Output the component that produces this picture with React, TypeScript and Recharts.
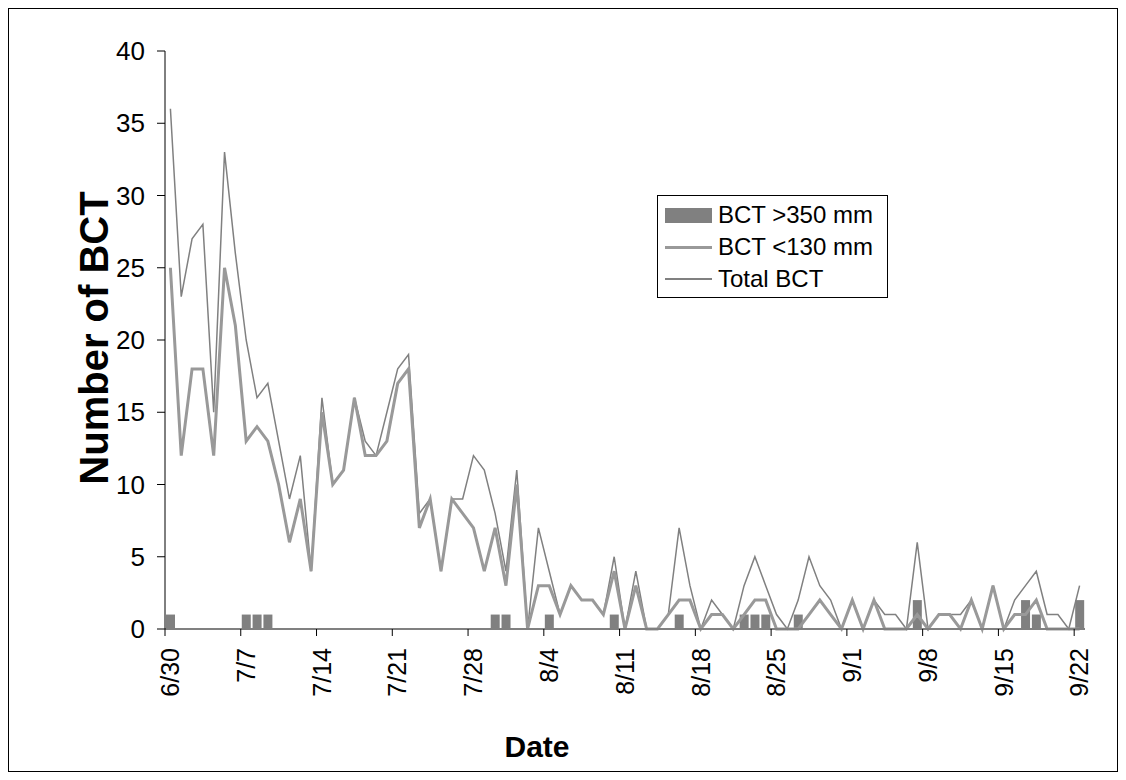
import { ComposedChart, Bar, Line, XAxis, YAxis, Legend, Label } from "recharts";

const dates = [
  "6/30",
  "7/1", "7/2", "7/3", "7/4", "7/5", "7/6", "7/7", "7/8", "7/9", "7/10",
  "7/11", "7/12", "7/13", "7/14", "7/15", "7/16", "7/17", "7/18", "7/19", "7/20",
  "7/21", "7/22", "7/23", "7/24", "7/25", "7/26", "7/27", "7/28", "7/29", "7/30", "7/31",
  "8/1", "8/2", "8/3", "8/4", "8/5", "8/6", "8/7", "8/8", "8/9", "8/10",
  "8/11", "8/12", "8/13", "8/14", "8/15", "8/16", "8/17", "8/18", "8/19", "8/20",
  "8/21", "8/22", "8/23", "8/24", "8/25", "8/26", "8/27", "8/28", "8/29", "8/30", "8/31",
  "9/1", "9/2", "9/3", "9/4", "9/5", "9/6", "9/7", "9/8", "9/9", "9/10",
  "9/11", "9/12", "9/13", "9/14", "9/15", "9/16", "9/17", "9/18", "9/19", "9/20",
  "9/21", "9/22",
];

const large = [
  1, 0, 0, 0, 0, 0, 0, 1, 1, 1, 0, 0, 0, 0, 0, 0, 0, 0, 0, 0,
  0, 0, 0, 0, 0, 0, 0, 0, 0, 0, 1, 1, 0, 0, 0, 1, 0, 0, 0, 0,
  0, 1, 0, 0, 0, 0, 0, 1, 0, 0, 0, 0, 0, 1, 1, 1, 0, 0, 1, 0,
  0, 0, 0, 0, 0, 0, 0, 0, 0, 2, 0, 0, 0, 0, 0, 0, 0, 0, 0, 2,
  1, 0, 0, 0, 2,
];

const small = [
  25, 12, 18, 18, 12, 25, 21, 13, 14, 13, 10, 6, 9, 4, 15, 10, 11, 16, 12, 12,
  13, 17, 18, 7, 9, 4, 9, 8, 7, 4, 7, 3, 10, 0, 3, 3, 1, 3, 2, 2,
  1, 4, 0, 3, 0, 0, 1, 2, 2, 0, 1, 1, 0, 1, 2, 2, 0, 0, 0, 1,
  2, 1, 0, 2, 0, 2, 0, 0, 0, 1, 0, 1, 1, 0, 2, 0, 3, 0, 1, 1,
  2, 0, 0, 0, 0,
];

const total = [
  36, 23, 27, 28, 15, 33, 26, 20, 16, 17, 13, 9, 12, 4, 16, 10, 11, 16, 13, 12,
  15, 18, 19, 8, 9, 4, 9, 9, 12, 11, 8, 4, 11, 0, 7, 4, 1, 3, 2, 2,
  1, 5, 0, 4, 0, 0, 1, 7, 3, 0, 2, 1, 0, 3, 5, 3, 1, 0, 2, 5,
  3, 2, 0, 2, 0, 2, 1, 1, 0, 6, 0, 1, 1, 1, 2, 0, 3, 0, 2, 3,
  4, 1, 1, 0, 3,
];

const yTicks = [0, 5, 10, 15, 20, 25, 30, 35, 40];

const data = dates.map((d, i) => ({ date: d, large: large[i], small: small[i], total: total[i] }));

const FONT = '"Liberation Sans", Arial, sans-serif';
const W = 1108;
const H = 762;
const LEFT = 156;
const RIGHT = 32;
const BAND = (W - LEFT - RIGHT) / dates.length;

const XTick = (props: any) => {
  const { x, y, payload } = props;
  const tx = x - BAND / 2;
  return (
    <g>
      <line x1={tx} x2={tx} y1={y} y2={y + 7} stroke="#000" strokeWidth={1} />
      <text
        x={x}
        y={y + 19}
        transform={`rotate(-90 ${x} ${y + 19})`}
        textAnchor="end"
        dy="0.35em"
        fontSize={25}
        fontFamily={FONT}
        fill="#000"
      >
        {payload.value}
      </text>
    </g>
  );
};

const LegendBox = () => {
  const row = { display: "flex", alignItems: "center", height: 32 } as const;
  const text = { fontSize: 24, fontFamily: FONT, color: "#000", marginLeft: 6, whiteSpace: "nowrap" } as const;
  return (
    <div style={{ border: "1px solid #000", background: "#fff", padding: "3px 7px 4px 7px", boxSizing: "border-box", width: 231, height: 103 }}>
      <div style={row}>
        <div style={{ width: 47, height: 15, background: "#808080" }} />
        <span style={text}>BCT &gt;350 mm</span>
      </div>
      <div style={row}>
        <div style={{ width: 47, height: 3, background: "#999999" }} />
        <span style={text}>BCT &lt;130 mm</span>
      </div>
      <div style={row}>
        <div style={{ width: 47, height: 2, background: "#808080" }} />
        <span style={text}>Total BCT</span>
      </div>
    </div>
  );
};

export default function App() {
  return (
    <div style={{ width: W, height: H, border: "1px solid #000", background: "#fff", position: "relative" }}>
      <ComposedChart width={W} height={H} data={data} margin={{ top: 42, right: RIGHT, bottom: 0, left: 0 }}>
        <XAxis
          dataKey="date"
          interval={6}
          height={142}
          tick={<XTick />}
          tickSize={0}
          tickMargin={0}
          tickLine={false}
          axisLine={{ stroke: "#808080", strokeWidth: 2 }}
        >
          <Label
            content={() => (
              <text x={528} y={748} textAnchor="middle" fontSize={30} fontWeight="bold" fontFamily={FONT} fill="#000">
                Date
              </text>
            )}
          />
        </XAxis>
        <YAxis
          width={LEFT}
          domain={[0, 40]}
          ticks={yTicks}
          interval={0}
          tickSize={8}
          tickMargin={12}
          axisLine={{ stroke: "#000" }}
          tickLine={{ stroke: "#000" }}
          tick={{ fontSize: 26, fontFamily: FONT, fill: "#000" }}
        >
          <Label
            content={() => (
              <text
                x={85}
                y={329}
                transform="rotate(-90 85 329)"
                textAnchor="middle"
                dy="0.35em"
                fontSize={40}
                fontWeight="bold"
                fontFamily={FONT}
                fill="#000"
              >
                Number of BCT
              </text>
            )}
          />
        </YAxis>
        <Legend
          layout="vertical"
          align="center"
          verticalAlign="middle"
          content={<LegendBox />}
          wrapperStyle={{ left: 648, top: 186, width: 231 }}
        />
        <Bar dataKey="large" name="BCT >350 mm" fill="#808080" barSize={9} isAnimationActive={false} />
        <Line
          dataKey="total"
          name="Total BCT"
          type="linear"
          stroke="#808080"
          strokeWidth={1.5}
          dot={false}
          activeDot={false}
          isAnimationActive={false}
        />
        <Line
          dataKey="small"
          name="BCT <130 mm"
          type="linear"
          stroke="#999999"
          strokeWidth={3}
          dot={false}
          activeDot={false}
          isAnimationActive={false}
        />
      </ComposedChart>
    </div>
  );
}
